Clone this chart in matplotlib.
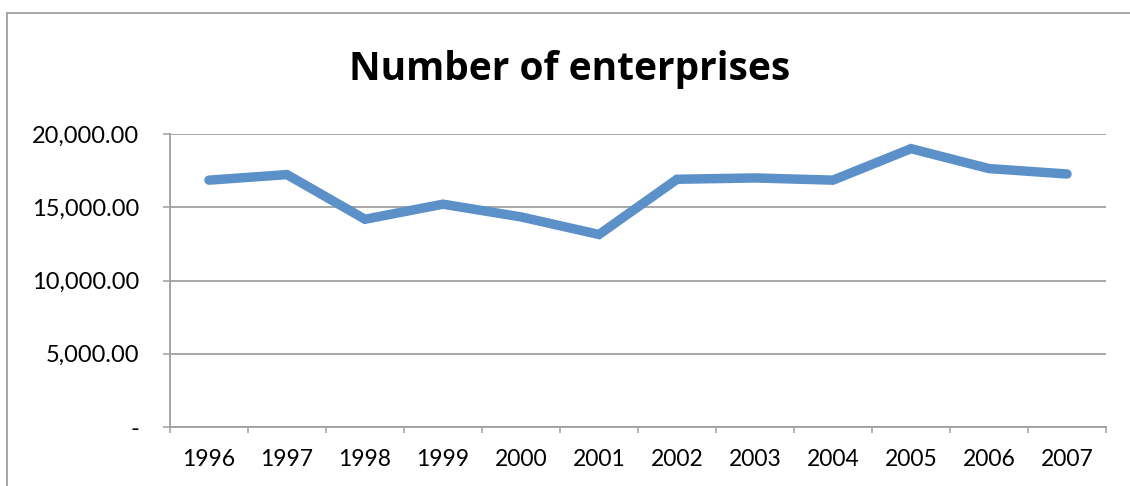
import matplotlib
matplotlib.use("Agg")
import matplotlib.pyplot as plt
from matplotlib.lines import Line2D
from matplotlib.ticker import FixedLocator, FuncFormatter

years = ["1996", "1997", "1998", "1999", "2000", "2001",
         "2002", "2003", "2004", "2005", "2006", "2007"]
enterprises = [16850, 17230, 14180, 15210, 14340, 13140,
               16910, 17000, 16850, 19000, 17640, 17270]
y_ticks = [0, 5000, 10000, 15000, 20000]
title = "Number of enterprises"

plt.rcParams['font.family'] = ['Lato', 'DejaVu Sans']

W, H = 1130, 486
fig = plt.figure(figsize=(W / 100, H / 100), dpi=100)
ax = fig.add_axes([170 / W, 1 - 427 / H, (1106 - 170) / W, (427 - 134) / H])

grid_c = "#a0a0a0"
x = list(range(len(years)))
ax.plot(x, enterprises, color="#5B90C8", lw=6.8, solid_capstyle="round",
        solid_joinstyle="miter", zorder=3)

ax.set_xlim(-0.5, len(years) - 0.5)
ax.set_ylim(0, 20000)
ax.set_yticks(y_ticks)
ax.yaxis.set_major_formatter(FuncFormatter(lambda v, p: "-" if v == 0 else f"{v:,.2f}"))
ax.set_xticks(x)
ax.set_xticklabels(years)
ax.xaxis.set_minor_locator(FixedLocator([i - 0.5 for i in range(len(years) + 1)]))

ax.grid(axis="y", color=grid_c, lw=1.3, zorder=0)
for s in ["top", "right"]:
    ax.spines[s].set_visible(False)
for s in ["left", "bottom"]:
    ax.spines[s].set_color(grid_c)
    ax.spines[s].set_linewidth(1.3)

ax.tick_params(axis="y", length=5, width=1.1, color=grid_c, pad=17, labelsize=17)
ax.tick_params(axis="x", which="major", length=0, pad=16, labelsize=16.5)
ax.tick_params(axis="x", which="minor", length=4.5, width=1.1, color=grid_c)

fig.text(569.5 / W, 1 - 80 / H, title, ha="center", va="baseline",
         fontsize=28, fontweight="bold", family=["Open Sans", "DejaVu Sans"])

# chart-area border (left and top edges visible)
fig.add_artist(Line2D([7 / W, 7 / W], [0, 1 - 13 / H], color=grid_c, lw=1.3,
                      transform=fig.transFigure))
fig.add_artist(Line2D([7 / W, 1], [1 - 13 / H, 1 - 13 / H], color=grid_c, lw=1.3,
                      transform=fig.transFigure))

fig.savefig("out.png", dpi=100)
